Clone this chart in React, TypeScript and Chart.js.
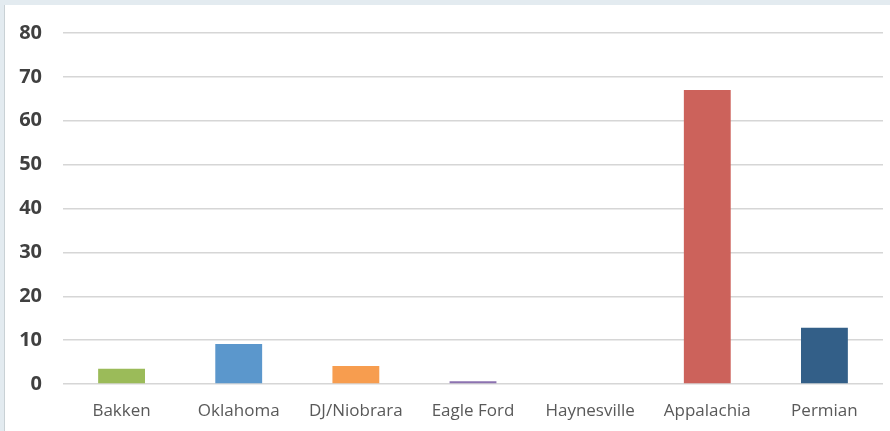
import React, { useEffect, useRef } from "react";
import { Chart, registerables } from "chart.js";

Chart.register(...registerables);

const categories = ["Bakken", "Oklahoma", "DJ/Niobrara", "Eagle Ford", "Haynesville", "Appalachia", "Permian"];
const values = [3.5, 9.1, 4.1, 0.6, 0, 67.0, 12.8];
const barColors = ["#9bbb59", "#5b97cc", "#f79d4f", "#8c72b0", "#c0504d", "#cc625b", "#335f88"];
const yTicks = [0, 10, 20, 30, 40, 50, 60, 70, 80];

export default function App() {
  const ref = useRef<HTMLCanvasElement | null>(null);

  useEffect(() => {
    if (!ref.current) return;
    const chart = new Chart(ref.current, {
      type: "bar",
      data: {
        labels: categories,
        datasets: [
          {
            data: values,
            backgroundColor: barColors,
            borderWidth: 0,
            categoryPercentage: 1,
            barPercentage: 0.4,
          },
        ],
      },
      options: {
        responsive: false,
        animation: false,
        layout: { padding: { left: 14, right: 7, top: 28, bottom: 6 } },
        plugins: { legend: { display: false }, tooltip: { enabled: false } },
        scales: {
          x: {
            grid: { display: false, drawTicks: false },
            border: { display: false },
            afterFit: (axis: any) => {
              axis.paddingLeft = 0;
              axis.paddingRight = 0;
              axis.paddingTop = 0;
              axis.paddingBottom = 0;
              axis.height = 41;
            },
            ticks: {
              padding: 17,
              color: "#595959",
              font: { family: "'Open Sans'", size: 17 },
            },
          },
          y: {
            min: 0,
            max: 80,
            afterBuildTicks: (axis: any) => {
              axis.ticks = yTicks.map((v) => ({ value: v }));
            },
            afterFit: (axis: any) => {
              axis.paddingTop = 0;
              axis.paddingBottom = 0;
              axis.paddingLeft = 0;
              axis.paddingRight = 0;
              axis.width = 44;
            },
            grid: { color: "#d6d6d6", lineWidth: 1.5, drawTicks: false },
            border: { display: false },
            ticks: {
              padding: 21,
              color: "#404040",
              font: { family: "'Open Sans'", size: 20, weight: "bold" },
            },
          },
        },
      },
    });
    return () => chart.destroy();
  }, []);

  return (
    <div style={{ position: "fixed", left: 0, top: 0, width: 890, height: 431, background: "#e3ebf0" }}>
      <div
        style={{
          position: "absolute",
          left: 4,
          top: 5,
          width: 885,
          height: 426,
          borderLeft: "1px solid #c9d1d5",
          background: "#ffffff",
        }}
      >
        <canvas ref={ref} width={885} height={426} style={{ display: "block" }} />
      </div>
    </div>
  );
}
